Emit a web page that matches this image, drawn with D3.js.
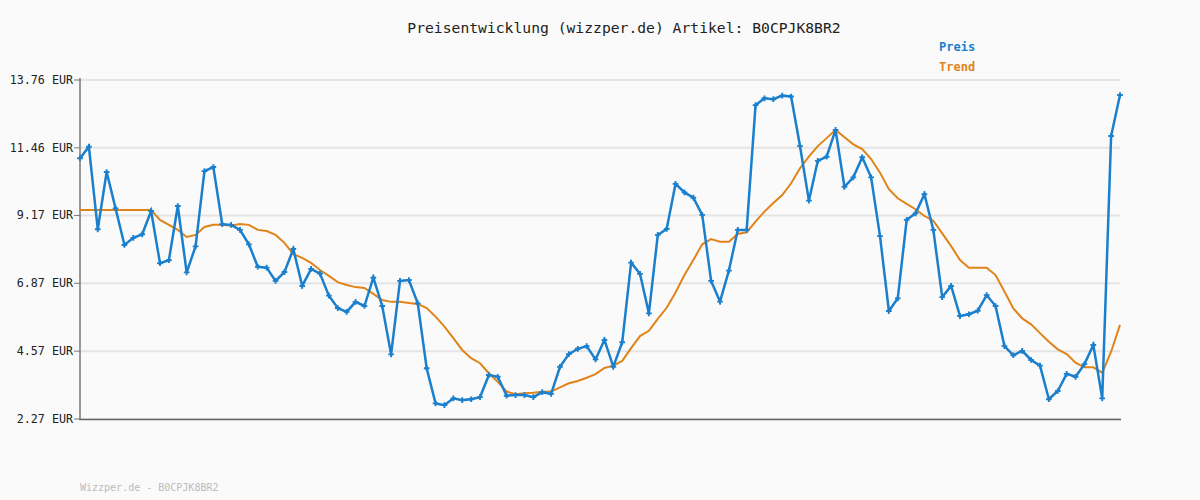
<!DOCTYPE html>
<html><head><meta charset="utf-8">
<script src="https://cdn.jsdelivr.net/npm/d3@7"></script>
<style>body{margin:0;background:#fafafa}svg{display:block}text{font-family:"DejaVu Sans Mono",monospace}</style>
</head><body><svg id="c" width="1200" height="500"></svg>
<script>
const yTicks = [2.27, 4.57, 6.87, 9.17, 11.46, 13.76];
const price = [11.11,11.50,8.70,10.64,9.41,8.17,8.41,8.53,9.32,7.55,7.65,9.49,7.24,8.12,10.67,10.81,8.87,8.85,8.68,8.19,7.43,7.40,6.95,7.25,8.03,6.78,7.36,7.20,6.45,6.03,5.90,6.24,6.10,7.06,6.10,4.46,6.95,6.98,6.19,3.99,2.80,2.74,2.97,2.91,2.94,3.01,3.76,3.70,3.06,3.08,3.08,3.01,3.18,3.12,4.04,4.47,4.65,4.74,4.29,4.95,4.04,4.87,7.57,7.19,5.85,8.51,8.71,10.24,9.95,9.77,9.19,6.95,6.25,7.30,8.68,8.68,12.91,13.14,13.11,13.23,13.20,11.52,9.67,11.02,11.16,12.07,10.14,10.46,11.14,10.46,8.47,5.93,6.36,9.02,9.24,9.89,8.68,6.40,6.78,5.76,5.82,5.94,6.47,6.10,4.74,4.43,4.58,4.27,4.08,2.94,3.22,3.80,3.70,4.13,4.78,2.97,11.86,13.25];
const trend = [9.35,9.35,9.35,9.35,9.35,9.35,9.35,9.35,9.35,9.02,8.85,8.68,8.44,8.51,8.78,8.85,8.85,8.82,8.88,8.85,8.68,8.64,8.51,8.24,7.86,7.73,7.56,7.32,7.12,6.91,6.81,6.74,6.71,6.51,6.30,6.24,6.24,6.20,6.17,6.03,5.74,5.40,5.01,4.61,4.33,4.16,3.82,3.53,3.20,3.11,3.14,3.16,3.19,3.20,3.34,3.48,3.56,3.67,3.79,4.00,4.08,4.24,4.67,5.08,5.26,5.66,6.04,6.56,7.15,7.66,8.19,8.37,8.28,8.28,8.54,8.60,8.96,9.30,9.59,9.86,10.26,10.77,11.16,11.52,11.79,12.07,11.82,11.58,11.42,11.08,10.62,10.06,9.75,9.56,9.38,9.15,8.99,8.56,8.13,7.66,7.40,7.40,7.40,7.15,6.59,6.02,5.68,5.48,5.18,4.89,4.63,4.47,4.18,4.02,4.02,3.84,4.55,5.46];
const title = "Preisentwicklung (wizzper.de) Artikel: B0CPJK8BR2";
const legend = ["Preis","Trend"];
const footer = "Wizzper.de - B0CPJK8BR2";

const svg = d3.select("#c");
const x = d3.scaleLinear().domain([0, price.length-1]).range([80, 1120]);
const y = d3.scaleLinear().domain([2.27, 13.76]).range([419, 80]);
const blue = "#1a7fcc", orange = "#e0841a";

svg.append("rect").attr("width",1200).attr("height",500).attr("fill","#fafafa");
svg.append("g").selectAll("line").data(yTicks).join("line")
  .attr("x1",80).attr("x2",1120).attr("y1",d=>y(d)).attr("y2",d=>y(d))
  .attr("stroke","#e4e4e4").attr("stroke-width",2);
svg.append("line").attr("x1",80).attr("x2",80).attr("y1",78).attr("y2",420).attr("stroke","#777").attr("stroke-width",1.5);
svg.append("line").attr("x1",79).attr("x2",1121).attr("y1",419.5).attr("y2",419.5).attr("stroke","#666").attr("stroke-width",1.5);
svg.append("g").selectAll("line").data(yTicks).join("line")
  .attr("x1",74).attr("x2",80).attr("y1",d=>y(d)).attr("y2",d=>y(d)).attr("stroke","#777");
svg.append("g").selectAll("text").data(yTicks).join("text")
  .attr("x",73).attr("y",d=>y(d)+4).attr("text-anchor","end")
  .attr("font-size",11.7).attr("fill","#222").text(d=>d.toFixed(2)+" EUR");

const line = d3.line().x((d,i)=>x(i)).y(d=>y(d));
svg.append("path").datum(trend).attr("d",line).attr("fill","none").attr("stroke",orange).attr("stroke-width",2);
svg.append("path").datum(price).attr("d",line).attr("fill","none").attr("stroke",blue).attr("stroke-width",2.5);
svg.append("g").selectAll("path").data(price).join("path")
  .attr("d",d3.symbol(d3.symbolCross,18)())
  .attr("transform",(d,i)=>`translate(${x(i)},${y(d)})`).attr("fill",blue);

svg.append("text").attr("x",624).attr("y",33).attr("text-anchor","middle")
  .attr("font-size",14.7).attr("fill","#222").text(title);
svg.append("text").attr("x",939).attr("y",51).attr("font-size",12).attr("font-weight","bold").attr("fill",blue).text(legend[0]);
svg.append("text").attr("x",939).attr("y",71).attr("font-size",12).attr("font-weight","bold").attr("fill",orange).text(legend[1]);
svg.append("text").attr("x",80).attr("y",491).attr("font-size",10).attr("fill","#bbb").text(footer);
</script></body></html>
